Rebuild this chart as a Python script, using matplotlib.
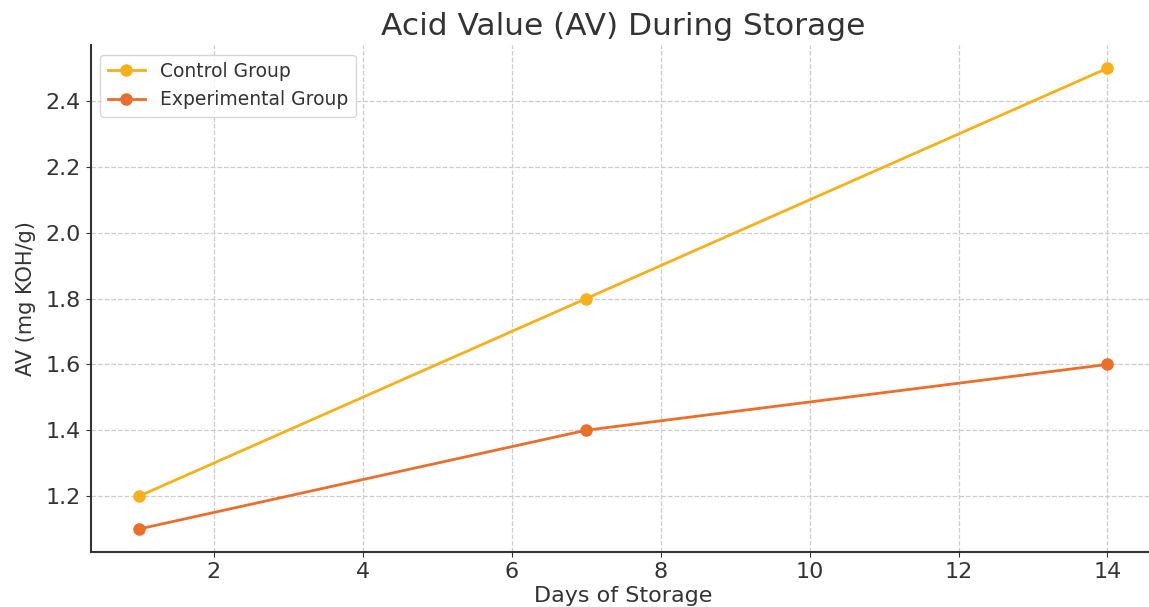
import matplotlib
matplotlib.use("Agg")
import matplotlib.pyplot as plt

days = [1, 7, 14]
control = [1.2, 1.8, 2.5]
experimental = [1.1, 1.4, 1.6]

fig = plt.figure(figsize=(11.49, 6.07), dpi=100)
ax = fig.add_axes([0.079, 0.0906, 0.927, 0.835])

ax.plot(days, control, marker='o', color='#F5B01A', lw=2, ms=8, label='Control Group')
ax.plot(days, experimental, marker='o', color='#EB6E2A', lw=2, ms=8, label='Experimental Group')

ax.set_title('Acid Value (AV) During Storage', fontsize=22.5, color='#333333', pad=7)
ax.set_xlabel('Days of Storage', fontsize=16, color='#333333', labelpad=3)
ax.set_ylabel('AV (mg KOH/g)', fontsize=15, color='#333333', labelpad=7)
ax.tick_params(labelsize=16, colors='#333333')
ax.grid(True, linestyle='--', color='#cccccc', lw=0.9)
for s in ['top', 'right']:
    ax.spines[s].set_visible(False)
for s in ['left', 'bottom']:
    ax.spines[s].set_color('#333333')
    ax.spines[s].set_linewidth(1.5)
ax.legend(loc='upper left', fontsize=13.5, labelcolor='#333333')

fig.savefig('out.png', dpi=100)
